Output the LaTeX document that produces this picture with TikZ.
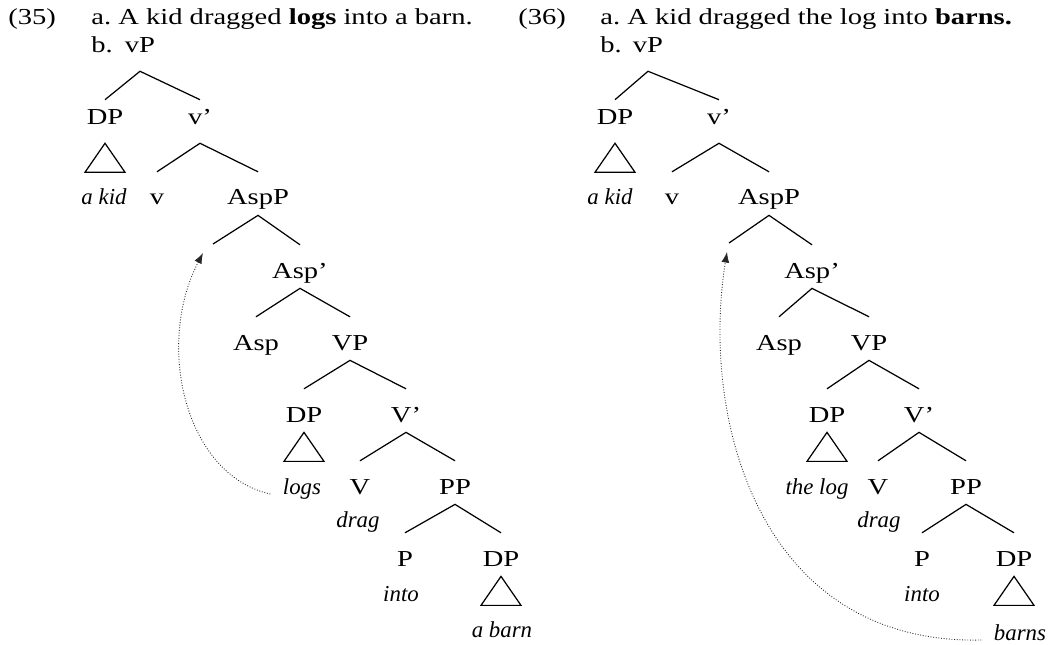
\documentclass[tikz,border=0pt]{standalone}
\usepackage{fontspec}
\setmainfont{Liberation Serif}[FakeStretch=1.25]
\newfontfamily\wordfont{Liberation Serif}
\usetikzlibrary{arrows.meta}

\tikzset{
	cat/.style={anchor=base, inner xsep=0pt, inner ysep=2pt, text height=16.7pt, text depth=3.7pt},
	topcat/.style={anchor=base, inner xsep=0pt, inner ysep=2pt, text height=12.2pt, text depth=8.2pt},
	word/.style={anchor=base, inner sep=2pt, font=\fontsize{13}{15}\selectfont\wordfont\itshape},
	line/.style={anchor=base west, inner sep=0pt},
	branch/.style={line width=0.7pt},
	move/.style={->, >={Latex[length=6pt,width=4.5pt]}, densely dotted, line width=0.5pt, black!85}
}

\begin{document}
\begin{tikzpicture}[x=0.02cm, y=-0.02cm, font=\fontsize{13}{15}\selectfont]
	\useasboundingbox (0,0) rectangle (1051,645);

	% (35)
	\node[line] (numL)  at (8,25)   {(35)};
	\node[line] (itemLa) at (91,25) {a.};
	\node[line] (sentL) at (118,25) {A kid dragged \textbf{logs} into a barn.};
	\node[line] (itemLb) at (91,53) {b.};

	\node[topcat] (vPL)    at (140,53)  {vP};
	\node[topcat] (DPL)    at (105,125) {DP};
	\node[topcat] (vbarL)  at (200,125) {v’};
	\node[word]   (kidL)   at (104,205) {a kid};
	\node[cat]    (vL)     at (157,205) {v};
	\node[cat]    (AspPL)  at (258,205) {AspP};
	\coordinate   (specL)  at (213,244);
	\node[cat]    (AspbarL) at (300,278) {Asp’};
	\node[cat]    (AspL)   at (256,350) {Asp};
	\node[cat]    (VPL)    at (350,350) {VP};
	\node[cat]    (objL)   at (304,422) {DP};
	\node[cat]    (VbarL)  at (406,422) {V’};
	\node[word]   (logsL)  at (302,494) {logs};
	\node[cat]    (VL)     at (360,494) {V};
	\node[cat]    (PPL)    at (455,494) {PP};
	\node[word]   (dragL)  at (358,527) {drag};
	\node[cat]    (PL)     at (405,566) {P};
	\node[cat]    (goalL)  at (501,566) {DP};
	\node[word]   (intoL)  at (401,601) {into};
	\node[word]   (barnL)  at (502,637) {a barn};

	\draw[branch] (DPL.north) -- (vPL.south) -- (vbarL.north);
	\draw[branch] (vL.north) -- (vbarL.south) -- (AspPL.north);
	\draw[branch] (specL) -- (AspPL.south) -- (AspbarL.north);
	\draw[branch] (AspL.north) -- (AspbarL.south) -- (VPL.north);
	\draw[branch] (objL.north) -- (VPL.south) -- (VbarL.north);
	\draw[branch] (VL.north) -- (VbarL.south) -- (PPL.north);
	\draw[branch] (PL.north) -- (PPL.south) -- (goalL.north);
	\draw[branch] (DPL.south) -- ++(-20,29) -- ++(40,0) -- cycle;
	\draw[branch] (objL.south) -- ++(-20,29) -- ++(40,0) -- cycle;
	\draw[branch] (goalL.south) -- ++(-20,29) -- ++(40,0) -- cycle;

	\coordinate (traceL) at (203,253);
	\draw[move] ([xshift=-5pt]logsL.base west) .. controls (185,475) and (155,345) .. (traceL);

	% (36)
	\node[line] (numR)  at (518,25) {(36)};
	\node[line] (itemRa) at (600,25) {a.};
	\node[line] (sentR) at (627,25) {A kid dragged the log into \textbf{barns.}};
	\node[line] (itemRb) at (600,53) {b.};

	\node[topcat] (vPR)    at (648,53)  {vP};
	\node[topcat] (DPR)    at (615,125) {DP};
	\node[topcat] (vbarR)  at (719,125) {v’};
	\node[word]   (kidR)   at (610,205) {a kid};
	\node[cat]    (vR)     at (672,205) {v};
	\node[cat]    (AspPR)  at (769,205) {AspP};
	\coordinate   (specR)  at (729,243);
	\node[cat]    (AspbarR) at (812,278) {Asp’};
	\node[cat]    (AspR)   at (779,350) {Asp};
	\node[cat]    (VPR)    at (869,350) {VP};
	\node[cat]    (objR)   at (827,422) {DP};
	\node[cat]    (VbarR)  at (919,422) {V’};
	\node[word]   (logR)   at (817,494) {the log};
	\node[cat]    (VR)     at (878,494) {V};
	\node[cat]    (PPR)    at (966,494) {PP};
	\node[word]   (dragR)  at (879,527) {drag};
	\node[cat]    (PR)     at (922,566) {P};
	\node[cat]    (goalR)  at (1014,566) {DP};
	\node[word]   (intoR)  at (922,601) {into};
	\node[word]   (barnsR) at (1020,640) {barns};

	\draw[branch] (DPR.north) -- (vPR.south) -- (vbarR.north);
	\draw[branch] (vR.north) -- (vbarR.south) -- (AspPR.north);
	\draw[branch] (specR) -- (AspPR.south) -- (AspbarR.north);
	\draw[branch] (AspR.north) -- (AspbarR.south) -- (VPR.north);
	\draw[branch] (objR.north) -- (VPR.south) -- (VbarR.north);
	\draw[branch] (VR.north) -- (VbarR.south) -- (PPR.north);
	\draw[branch] (PR.north) -- (PPR.south) -- (goalR.north);
	\draw[branch] (DPR.south) -- ++(-20,29) -- ++(40,0) -- cycle;
	\draw[branch] (objR.south) -- ++(-20,29) -- ++(40,0) -- cycle;
	\draw[branch] (goalR.south) -- ++(-20,29) -- ++(40,0) -- cycle;

	\coordinate (traceR) at (727,252);
	\draw[move] ([xshift=-5pt]barnsR.base west) .. controls (760,645) and (700,420) .. (traceR);
\end{tikzpicture}
\end{document}
